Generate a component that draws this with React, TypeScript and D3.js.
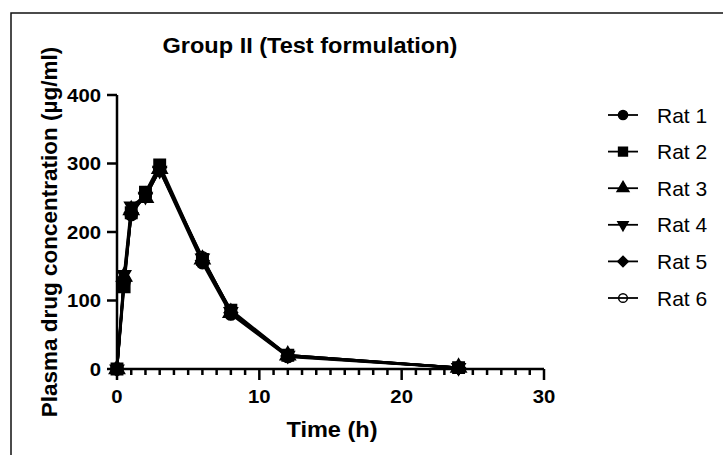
import React, { useEffect, useRef } from 'react';
import * as d3 from 'd3';

// sampling times (h)
const times = [0, 0.5, 1, 2, 3, 6, 8, 12, 24];

const seriesNames = ['Rat 1', 'Rat 2', 'Rat 3', 'Rat 4', 'Rat 5', 'Rat 6'];

// plasma concentration (µg/ml) per rat
const rat1 = [0, 130, 225, 255, 290, 155, 80, 18, 2];
const rat2 = [0, 120, 228, 258, 298, 160, 86, 20, 2];
const rat3 = [0, 135, 232, 250, 292, 160, 82, 20, 2];
const rat4 = [0, 138, 238, 252, 290, 162, 84, 20, 2];
const rat5 = [0, 128, 228, 256, 294, 158, 82, 19, 2];
const rat6 = [0, 125, 226, 258, 292, 163, 84, 19, 2];

const seriesValues = [rat1, rat2, rat3, rat4, rat5, rat6];

const xTicks = [0, 10, 20, 30];
const yTicks = [0, 100, 200, 300, 400];

const App = () => {
  const svgRef = useRef(null);

  useEffect(() => {
    const W = 723;
    const H = 455;
    const svg = d3.select(svgRef.current);
    svg.selectAll('*').remove();
    svg.attr('width', W).attr('height', H);

    const font = '"Liberation Sans", Arial, sans-serif';
    const sx = 1.07; // the picture's text is a little wider than the font

    // helper for text stretched horizontally
    const addText = (parent, tx, ty, str, size, bold, anchor) =>
      parent.append('text')
        .attr('transform', `translate(${tx},${ty}) scale(${sx},1)`)
        .attr('text-anchor', anchor)
        .style('font-family', font)
        .style('font-size', `${size}px`)
        .style('font-weight', bold ? 'bold' : 'normal')
        .text(str);

    // outer frame (right/bottom edges fall outside the picture)
    svg.append('rect')
      .attr('x', 11).attr('y', 13)
      .attr('width', 800).attr('height', 600)
      .attr('fill', 'white')
      .attr('stroke', '#111')
      .attr('stroke-width', 1.5);

    const x = d3.scaleLinear().domain([0, 30]).range([117, 544]);
    const y = d3.scaleLinear().domain([0, 400]).range([369, 95]);

    // title
    addText(svg, 310, 53, 'Group II (Test formulation)', 22, true, 'middle');

    // axes
    const axisG = svg.append('g');
    axisG.append('line')
      .attr('x1', x(0)).attr('x2', x(0))
      .attr('y1', y(400)).attr('y2', y(0))
      .attr('stroke', 'black').attr('stroke-width', 2.5);
    axisG.append('line')
      .attr('x1', x(0)).attr('x2', x(30))
      .attr('y1', y(0)).attr('y2', y(0))
      .attr('stroke', 'black').attr('stroke-width', 2.5);

    // y ticks
    yTicks.forEach(t => {
      axisG.append('line')
        .attr('x1', x(0) - 10).attr('x2', x(0))
        .attr('y1', y(t)).attr('y2', y(t))
        .attr('stroke', 'black').attr('stroke-width', 2.5);
      addText(axisG, x(0) - 16, y(t) + 6.8, t, 19, true, 'end');
    });

    // x minor ticks every hour
    d3.range(0, 31).forEach(t => {
      const major = xTicks.includes(t);
      axisG.append('line')
        .attr('x1', x(t)).attr('x2', x(t))
        .attr('y1', y(0)).attr('y2', y(0) + (major ? 11 : 6))
        .attr('stroke', 'black').attr('stroke-width', 2.5);
    });
    xTicks.forEach(t => {
      addText(axisG, x(t), 403, t, 19, true, 'middle');
    });

    // axis titles
    addText(svg, 332, 437, 'Time (h)', 22, true, 'middle');

    svg.append('text')
      .attr('transform', `translate(57,${(y(0) + y(400)) / 2}) rotate(-90)`)
      .attr('text-anchor', 'middle')
      .style('font-family', font)
      .style('font-size', '22.5px')
      .style('font-weight', 'bold')
      .text('Plasma drug concentration (µg/ml)');

    // marker shapes
    const triDown = {
      draw(ctx, size) {
        const s = Math.sqrt(size / (Math.sqrt(3) / 4));
        const h = s * Math.sqrt(3) / 2;
        ctx.moveTo(0, h * 2 / 3);
        ctx.lineTo(s / 2, -h / 3);
        ctx.lineTo(-s / 2, -h / 3);
        ctx.closePath();
      }
    };
    const rhomb = {
      draw(ctx, size) {
        const r = Math.sqrt(size / 2);
        ctx.moveTo(0, -r);
        ctx.lineTo(r, 0);
        ctx.lineTo(0, r);
        ctx.lineTo(-r, 0);
        ctx.closePath();
      }
    };
    const shapes = [
      { type: d3.symbolCircle, size: 110, fill: 'black' },
      { type: d3.symbolSquare, size: 130, fill: 'black' },
      { type: d3.symbolTriangle, size: 100, fill: 'black' },
      { type: triDown, size: 75, fill: 'black' },
      { type: rhomb, size: 90, fill: 'black' },
      { type: d3.symbolCircle, size: 100, fill: 'white' },
    ];

    const line = d3.line()
      .x((d, i) => x(times[i]))
      .y(d => y(d));

    const plot = svg.append('g');
    seriesValues.forEach(vals => {
      plot.append('path')
        .datum(vals)
        .attr('d', line)
        .attr('fill', 'none')
        .attr('stroke', 'black')
        .attr('stroke-width', 2.5);
    });
    // draw markers from last series to first so the filled ones end on top
    seriesValues.slice().reverse().forEach((vals, ri) => {
      const sh = shapes[seriesValues.length - 1 - ri];
      plot.selectAll(null)
        .data(vals)
        .enter()
        .append('path')
        .attr('transform', (d, i) => `translate(${x(times[i])},${y(d)})`)
        .attr('d', d3.symbol().type(sh.type).size(sh.size))
        .attr('fill', sh.fill)
        .attr('stroke', 'black')
        .attr('stroke-width', 1.5);
    });

    // legend
    const legend = svg.append('g').attr('transform', 'translate(608,115)');
    seriesNames.forEach((name, i) => {
      const sh = shapes[i];
      const g = legend.append('g').attr('transform', `translate(0,${i * 36.6})`);
      g.append('path')
        .attr('transform', 'translate(15,0)')
        .attr('d', d3.symbol().type(sh.type).size(sh.size * 0.6))
        .attr('fill', sh.fill)
        .attr('stroke', 'black')
        .attr('stroke-width', 1.5);
      // line on top, so it shows through the open circle
      g.append('line')
        .attr('x1', 0).attr('x2', 30)
        .attr('y1', 0).attr('y2', 0)
        .attr('stroke', 'black').attr('stroke-width', 1.8);
      g.append('text')
        .attr('x', 49).attr('y', 7.5)
        .style('font-family', font)
        .style('font-size', '21px')
        .text(name);
    });
  }, []);

  return (
    <div style={{ position: 'fixed', left: 0, top: 0 }}>
      <svg ref={svgRef} style={{ display: 'block' }}></svg>
    </div>
  );
};

export default App;
